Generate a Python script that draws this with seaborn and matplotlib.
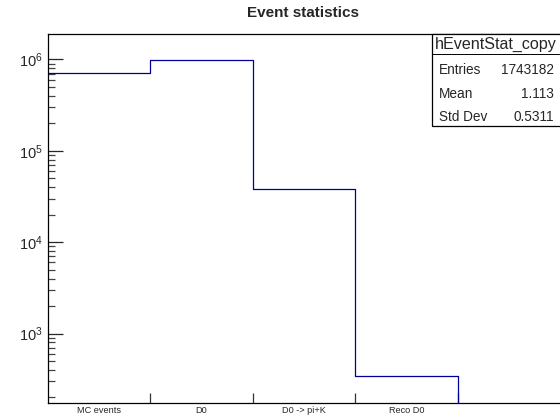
import numpy as np
import pandas as pd
import matplotlib
matplotlib.use("Agg")
import matplotlib.pyplot as plt
import matplotlib.ticker as mticker
from matplotlib.patches import Rectangle
import seaborn as sns

# Event counts per selection stage (last bin is empty)
categories = ["MC events", "D0", "D0 -> pi+K", "Reco D0", ""]
counts = [713347, 991446, 38042, 347, 0]
hist_name = "hEventStat_copy"
title = "Event statistics"

sns.set_style("ticks")
plt.rcParams["font.family"] = ["Liberation Sans", "DejaVu Sans"]
plt.rcParams["mathtext.fontset"] = "custom"
plt.rcParams["mathtext.rm"] = "Liberation Sans"
plt.rcParams["mathtext.it"] = "Liberation Sans:italic"

nbins = len(categories)
edges = np.arange(nbins + 1, dtype=float)
centers = edges[:-1] + 0.5
df = pd.DataFrame({"stage": centers, "n": counts})

# summary statistics of the filled histogram
w = np.asarray(counts, dtype=float)
entries = int(w.sum())
mean = float((w * centers).sum() / w.sum())
std = float(np.sqrt((w * centers**2).sum() / w.sum() - mean**2))

W, H = 560, 418
fig = plt.figure(figsize=(W / 100, H / 100), dpi=100)
fig.patch.set_facecolor("white")
ax = fig.add_axes([48 / W, (H - 403) / H, 512 / W, (403 - 34) / H])

sns.histplot(data=df, x="stage", weights="n", binwidth=1.0,
             binrange=(0.0, float(nbins)), element="step",
             fill=False, color="#000099", linewidth=0.9, ax=ax, legend=False)
ax.set_yscale("log")
ax.set_xlim(edges[0], edges[-1])
ax.set_ylim(174, 1.9e6)
ax.set_xlabel("")
ax.set_ylabel("")

for side in ["left", "top", "bottom"]:
    ax.spines[side].set_linewidth(0.9)
    ax.spines[side].set_color("black")
ax.spines["right"].set_visible(False)

# category labels at bin centres, ticks at bin edges
ax.set_xticks(centers)
ax.set_xticklabels(categories, fontsize=6.6)
ax.tick_params(axis="x", which="major", length=0, pad=2.5)
ax.set_xticks(edges[1:-1], minor=True)
ax.tick_params(axis="x", which="minor", direction="in", length=7.5, width=0.9,
               color="#333333")

ax.yaxis.set_major_locator(mticker.LogLocator(base=10))
ax.yaxis.set_minor_locator(mticker.LogLocator(base=10, subs=np.arange(2, 10)))
ax.yaxis.set_minor_formatter(mticker.NullFormatter())
ax.tick_params(axis="y", which="major", direction="in", length=10.5, width=0.9,
               labelsize=10.5, pad=4)
ax.tick_params(axis="y", which="minor", direction="in", length=5, width=0.9,
               color="#444444")

fig.text(303 / W, 1 - 13 / H, title, ha="center", va="center",
         fontsize=11, fontweight="bold")

# statistics box
bx0, by0, by1 = 432, 34, 126
sep = 54
fig.patches.append(Rectangle((bx0 / W, 1 - by1 / H), (W - bx0 + 5) / W,
                             (by1 - by0) / H, transform=fig.transFigure,
                             facecolor="white", edgecolor="black",
                             linewidth=0.9, zorder=5))
fig.lines.append(plt.Line2D([bx0 / W, 1.0], [1 - sep / H, 1 - sep / H],
                            transform=fig.transFigure, color="black",
                            linewidth=0.7, zorder=6))
fig.text((bx0 + 3) / W, 1 - 44 / H, hist_name, ha="left", va="center",
         fontsize=11.6, zorder=7)
rows = [("Entries", f"{entries}"), ("Mean", f"{mean:.4g}"),
        ("Std Dev", f"{std:.4g}")]
for i, (k, v) in enumerate(rows):
    y = 1 - (70 + i * 23.5) / H
    fig.text(439 / W, y, k, ha="left", va="center", fontsize=9.8, zorder=7)
    fig.text(554 / W, y, v, ha="right", va="center", fontsize=9.8, zorder=7)

fig.savefig("out.png", dpi=100, facecolor="white")
